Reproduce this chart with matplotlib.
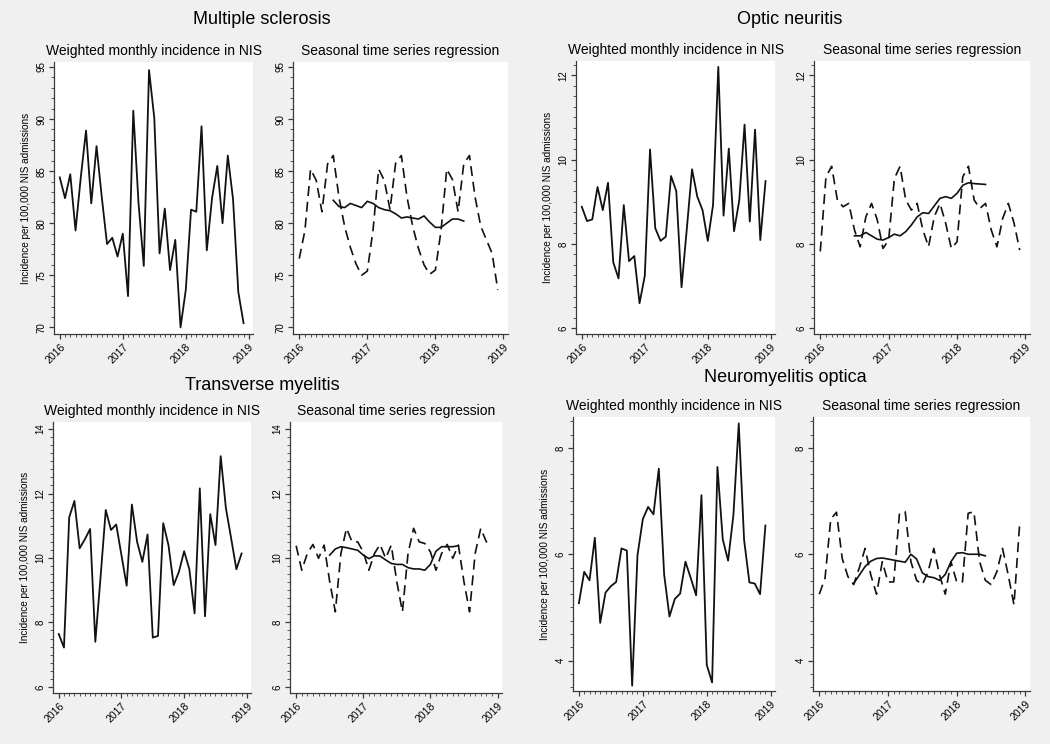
import matplotlib
matplotlib.use("Agg")
import matplotlib.pyplot as plt
from matplotlib.ticker import MultipleLocator, FixedLocator
import numpy as np

plt.rcParams['font.family'] = ['Liberation Sans', 'DejaVu Sans']

# ---------------- data ----------------
months = list(range(36))          # Jan 2016 .. Dec 2018
trend_months = list(range(6, 30))  # centred moving average
year_ticks = [0, 12, 24, 36]
year_labels = ["2016", "2017", "2018", "2019"]

ms_weighted = [84.4, 82.4, 84.7, 79.3, 84.4, 88.9, 81.9, 87.4, 82.5, 78.0, 78.6, 76.8,
               79.0, 73.0, 90.8, 81.9, 75.9, 94.7, 90.1, 77.1, 81.4, 75.5, 78.4, 70.0,
               73.6, 81.3, 81.1, 89.3, 77.4, 82.4, 85.5, 80.0, 86.5, 82.3, 73.4, 70.4]
ms_seasonal = [76.6, 79.3, 85.2, 84.1, 81.1, 85.7, 86.5, 82.5, 79.7, 77.7, 76.1, 75.0,
               75.4, 79.3, 85.2, 84.1, 81.3, 85.8, 86.5, 82.5, 79.7, 77.6, 76.0, 75.1,
               75.5, 79.3, 85.2, 84.2, 81.1, 85.7, 86.5, 82.5, 79.7, 78.4, 77.1, 73.6]
ms_trend = [82.2, 81.6, 81.5, 81.9, 81.7, 81.5, 82.1, 81.9, 81.5, 81.3, 81.2, 80.9,
            80.5, 80.6, 80.5, 80.4, 80.7, 80.1, 79.6, 79.6, 80.0, 80.4, 80.4, 80.2]

on_weighted = [8.88, 8.54, 8.58, 9.35, 8.80, 9.45, 7.56, 7.18, 8.92, 7.59, 7.71, 6.59,
               7.24, 10.24, 8.37, 8.07, 8.17, 9.61, 9.25, 6.97, 8.35, 9.77, 9.12, 8.80,
               8.07, 8.92, 12.20, 8.67, 10.26, 8.30, 9.04, 10.83, 8.53, 10.71, 8.09, 9.49]
on_seasonal = [7.82, 9.59, 9.84, 9.04, 8.88, 8.96, 8.33, 7.93, 8.64, 8.96, 8.57, 7.89,
               8.09, 9.55, 9.84, 9.04, 8.80, 8.96, 8.33, 7.93, 8.64, 8.96, 8.49, 7.89,
               8.05, 9.59, 9.84, 9.04, 8.84, 8.96, 8.33, 7.93, 8.60, 8.96, 8.49, 7.85]
on_trend = [8.19, 8.19, 8.27, 8.19, 8.11, 8.09, 8.15, 8.23, 8.19, 8.29, 8.45, 8.64,
            8.74, 8.72, 8.90, 9.08, 9.12, 9.08, 9.20, 9.39, 9.45, 9.43, 9.42, 9.41]

tm_weighted = [7.64, 7.22, 11.26, 11.77, 10.30, 10.58, 10.90, 7.40, 9.40, 11.49, 10.87, 11.04,
               10.09, 9.14, 11.66, 10.50, 9.88, 10.73, 7.53, 7.58, 11.08, 10.40, 9.16, 9.57,
               10.21, 9.65, 8.28, 12.16, 8.19, 11.36, 10.40, 13.16, 11.54, 10.61, 9.65, 10.14]
tm_seasonal = [10.38, 9.62, 10.14, 10.42, 9.99, 10.40, 9.26, 8.33, 10.14, 10.92, 10.50, 10.50,
               10.19, 9.62, 10.14, 10.42, 9.99, 10.40, 9.26, 8.33, 10.14, 10.92, 10.50, 10.45,
               10.19, 9.62, 10.14, 10.42, 9.99, 10.40, 9.26, 8.33, 10.14, 10.92, 10.50, 10.55]
tm_trend = [10.09, 10.28, 10.35, 10.32, 10.28, 10.24, 10.09, 9.98, 10.07, 10.06, 9.94, 9.83,
            9.80, 9.80, 9.70, 9.66, 9.66, 9.62, 9.80, 10.21, 10.35, 10.35, 10.35, 10.38]

nmo_weighted = [5.08, 5.67, 5.51, 6.31, 4.71, 5.28, 5.40, 5.48, 6.11, 6.07, 3.53, 5.98,
                6.66, 6.89, 6.75, 7.61, 5.62, 4.83, 5.16, 5.26, 5.86, 5.55, 5.23, 7.11,
                3.92, 3.59, 7.64, 6.28, 5.88, 6.74, 8.46, 6.27, 5.47, 5.45, 5.25, 6.54]
nmo_seasonal = [5.25, 5.55, 6.66, 6.79, 5.92, 5.58, 5.43, 5.75, 6.11, 5.61, 5.25, 5.86,
                5.48, 5.48, 6.77, 6.80, 5.86, 5.51, 5.43, 5.67, 6.11, 5.61, 5.25, 5.86,
                5.48, 5.48, 6.77, 6.80, 5.86, 5.51, 5.43, 5.67, 6.11, 5.61, 5.05, 6.58]
nmo_trend = [5.45, 5.61, 5.77, 5.87, 5.92, 5.93, 5.91, 5.89, 5.87, 5.85, 6.00, 5.91,
             5.65, 5.58, 5.56, 5.51, 5.62, 5.86, 6.02, 6.03, 6.00, 6.00, 6.00, 5.97]

disease_titles = ["Multiple sclerosis", "Optic neuritis", "Transverse myelitis", "Neuromyelitis optica"]
sub_left = "Weighted monthly incidence in NIS"
sub_right = "Seasonal time series regression"
ylabel = "Incidence per 100,000 NIS admissions"

# ---------------- layout (pixels) ----------------
W, H = 1050, 744
BG = "#f0f0f0"
fig = plt.figure(figsize=(W / 100, H / 100), dpi=100, facecolor=BG)


def add_ax(l, r, t, b):
    return fig.add_axes([l / W, 1 - b / H, (r - l) / W, (b - t) / H])


groups = [
    dict(title=disease_titles[0], tpos=(262, 20), w=ms_weighted, s=ms_seasonal, tr=ms_trend,
         ylim=(69.36, 95.48), minor=1, yt=[70, 75, 80, 85, 90, 95],
         left=(54, 253, 62, 334), right=(293, 508, 62, 334)),
    dict(title=disease_titles[1], tpos=(790, 20), w=on_weighted, s=on_seasonal, tr=on_trend,
         ylim=(5.86, 12.34), minor=0.25, yt=[6, 8, 10, 12],
         left=(576, 775, 61, 334), right=(814, 1030, 61, 334)),
    dict(title=disease_titles[2], tpos=(262, 385), w=tm_weighted, s=tm_seasonal, tr=tm_trend,
         ylim=(5.81, 14.22), minor=0.25, yt=[6, 8, 10, 12, 14],
         left=(53, 251, 422, 693), right=(290, 502, 422, 693)),
    dict(title=disease_titles[3], tpos=(785, 378), w=nmo_weighted, s=nmo_seasonal, tr=nmo_trend,
         ylim=(3.43, 8.58), minor=0.25, yt=[4, 6, 8],
         left=(573, 775, 417, 691), right=(813, 1030, 417, 691)),
]

SPINE = "#3a3a3a"


def style(ax, g):
    ax.set_facecolor("white")
    for side in ["top", "right"]:
        ax.spines[side].set_visible(False)
    for side in ["left", "bottom"]:
        ax.spines[side].set_color(SPINE)
        ax.spines[side].set_linewidth(0.9)
    ax.set_xlim(-1.1, 36.8)
    ax.set_ylim(*g["ylim"])
    ax.xaxis.set_major_locator(FixedLocator(year_ticks))
    ax.set_xticklabels(year_labels, rotation=45, ha="right", rotation_mode="anchor", fontsize=7.5)
    ax.xaxis.set_minor_locator(FixedLocator(months))
    ax.yaxis.set_major_locator(FixedLocator(g["yt"]))
    ax.set_yticklabels([str(v) for v in g["yt"]], rotation=90, va="center", fontsize=7)
    ax.yaxis.set_minor_locator(MultipleLocator(g["minor"]))
    ax.tick_params(axis="both", which="major", length=3.5, width=0.9, color=SPINE, pad=2)
    ax.tick_params(axis="both", which="minor", length=2, width=0.6, color=SPINE)


for g in groups:
    axl = add_ax(*g["left"])
    style(axl, g)
    axl.plot(months, g["w"], color="#111111", lw=1.3)
    axl.set_title(sub_left, fontsize=10, pad=5)
    axl.set_ylabel(ylabel, fontsize=7.2, labelpad=4)

    axr = add_ax(*g["right"])
    style(axr, g)
    axr.plot(months, g["s"], color="#111111", lw=1.2, dashes=(6, 3.5))
    axr.plot(trend_months, g["tr"], color="#111111", lw=1.2)
    axr.set_title(sub_right, fontsize=10, pad=5)

    fig.text(g["tpos"][0] / W, 1 - g["tpos"][1] / H, g["title"], fontsize=13,
             ha="center", va="center")

fig.savefig("out.png", dpi=100, facecolor=BG)
